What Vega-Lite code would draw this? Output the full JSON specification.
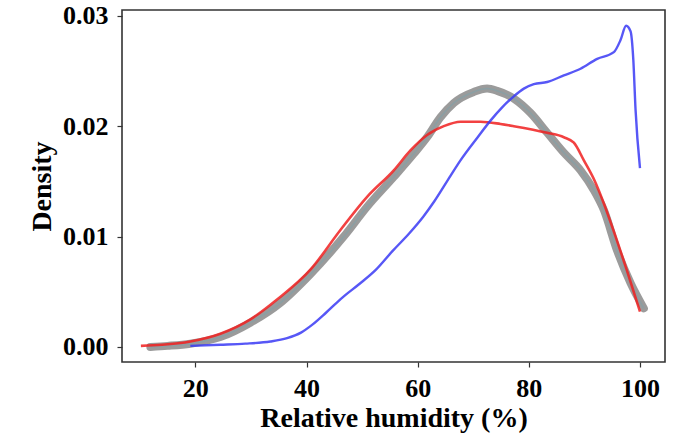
{
  "$schema": "https://vega.github.io/schema/vega-lite/v6.json",
  "width": 543,
  "height": 352,
  "autosize": {"type": "none"},
  "padding": {"left": 122, "top": 10, "right": 21, "bottom": 78},
  "background": "white",
  "config": {
    "view": {"stroke": "#333333", "strokeWidth": 1.6},
    "axis": {
      "labelFont": "Liberation Serif",
      "labelFontWeight": "bold",
      "labelFontSize": 26,
      "labelColor": "#000000",
      "titleFont": "Liberation Serif",
      "titleFontWeight": "bold",
      "titleFontSize": 28,
      "titleColor": "#000000",
      "grid": false,
      "domain": false,
      "tickColor": "#333333",
      "tickSize": 5,
      "tickWidth": 1.2
    }
  },
  "datasets": {
    "density": [
      {"series": "ensemble", "rh": 11.9, "d": 0.0000},
      {"series": "ensemble", "rh": 15.0, "d": 0.0001},
      {"series": "ensemble", "rh": 19.1, "d": 0.0003},
      {"series": "ensemble", "rh": 24.5, "d": 0.0009},
      {"series": "ensemble", "rh": 29.9, "d": 0.0022},
      {"series": "ensemble", "rh": 35.3, "d": 0.0040},
      {"series": "ensemble", "rh": 40.7, "d": 0.0066},
      {"series": "ensemble", "rh": 46.7, "d": 0.0100},
      {"series": "ensemble", "rh": 50.9, "d": 0.0127},
      {"series": "ensemble", "rh": 55.7, "d": 0.0154},
      {"series": "ensemble", "rh": 59.3, "d": 0.0175},
      {"series": "ensemble", "rh": 61.7, "d": 0.0190},
      {"series": "ensemble", "rh": 64.1, "d": 0.0208},
      {"series": "ensemble", "rh": 66.5, "d": 0.0221},
      {"series": "ensemble", "rh": 70.1, "d": 0.0231},
      {"series": "ensemble", "rh": 72.5, "d": 0.0234},
      {"series": "ensemble", "rh": 74.3, "d": 0.0232},
      {"series": "ensemble", "rh": 77.3, "d": 0.0225},
      {"series": "ensemble", "rh": 80.3, "d": 0.0212},
      {"series": "ensemble", "rh": 83.3, "d": 0.0194},
      {"series": "ensemble", "rh": 86.3, "d": 0.0176},
      {"series": "ensemble", "rh": 89.3, "d": 0.0160},
      {"series": "ensemble", "rh": 91.7, "d": 0.0142},
      {"series": "ensemble", "rh": 93.5, "d": 0.0124},
      {"series": "ensemble", "rh": 95.9, "d": 0.0087},
      {"series": "ensemble", "rh": 98.3, "d": 0.0058},
      {"series": "ensemble", "rh": 100.7, "d": 0.0035},

      {"series": "run_a", "rh": 10.2, "d": 0.0001},
      {"series": "run_a", "rh": 14.0, "d": 0.0002},
      {"series": "run_a", "rh": 19.1, "d": 0.0005},
      {"series": "run_a", "rh": 24.5, "d": 0.0012},
      {"series": "run_a", "rh": 29.9, "d": 0.0025},
      {"series": "run_a", "rh": 34.7, "d": 0.0043},
      {"series": "run_a", "rh": 40.7, "d": 0.0070},
      {"series": "run_a", "rh": 46.1, "d": 0.0106},
      {"series": "run_a", "rh": 50.9, "d": 0.0136},
      {"series": "run_a", "rh": 55.7, "d": 0.0160},
      {"series": "run_a", "rh": 58.7, "d": 0.0178},
      {"series": "run_a", "rh": 61.7, "d": 0.0192},
      {"series": "run_a", "rh": 64.7, "d": 0.0200},
      {"series": "run_a", "rh": 67.7, "d": 0.0204},
      {"series": "run_a", "rh": 71.3, "d": 0.0204},
      {"series": "run_a", "rh": 74.9, "d": 0.0202},
      {"series": "run_a", "rh": 77.3, "d": 0.0200},
      {"series": "run_a", "rh": 83.3, "d": 0.0194},
      {"series": "run_a", "rh": 86.3, "d": 0.0190},
      {"series": "run_a", "rh": 88.1, "d": 0.0185},
      {"series": "run_a", "rh": 89.9, "d": 0.0169},
      {"series": "run_a", "rh": 91.8, "d": 0.0151},
      {"series": "run_a", "rh": 93.5, "d": 0.0130},
      {"series": "run_a", "rh": 95.2, "d": 0.0106},
      {"series": "run_a", "rh": 97.6, "d": 0.0070},
      {"series": "run_a", "rh": 100.0, "d": 0.0032},

      {"series": "run_b", "rh": 19.1, "d": 0.0001},
      {"series": "run_b", "rh": 24.5, "d": 0.0002},
      {"series": "run_b", "rh": 29.0, "d": 0.0003},
      {"series": "run_b", "rh": 33.5, "d": 0.0005},
      {"series": "run_b", "rh": 36.5, "d": 0.0008},
      {"series": "run_b", "rh": 39.0, "d": 0.0013},
      {"series": "run_b", "rh": 41.0, "d": 0.0020},
      {"series": "run_b", "rh": 43.5, "d": 0.0031},
      {"series": "run_b", "rh": 46.5, "d": 0.0045},
      {"series": "run_b", "rh": 49.5, "d": 0.0057},
      {"series": "run_b", "rh": 52.5, "d": 0.0070},
      {"series": "run_b", "rh": 55.5, "d": 0.0087},
      {"series": "run_b", "rh": 58.5, "d": 0.0103},
      {"series": "run_b", "rh": 61.0, "d": 0.0118},
      {"series": "run_b", "rh": 63.0, "d": 0.0132},
      {"series": "run_b", "rh": 65.9, "d": 0.0155},
      {"series": "run_b", "rh": 67.7, "d": 0.0169},
      {"series": "run_b", "rh": 70.8, "d": 0.0190},
      {"series": "run_b", "rh": 73.1, "d": 0.0205},
      {"series": "run_b", "rh": 75.2, "d": 0.0217},
      {"series": "run_b", "rh": 77.3, "d": 0.0227},
      {"series": "run_b", "rh": 79.1, "d": 0.0234},
      {"series": "run_b", "rh": 80.9, "d": 0.0238},
      {"series": "run_b", "rh": 83.3, "d": 0.0240},
      {"series": "run_b", "rh": 86.3, "d": 0.0246},
      {"series": "run_b", "rh": 89.3, "d": 0.0252},
      {"series": "run_b", "rh": 92.3, "d": 0.0261},
      {"series": "run_b", "rh": 95.3, "d": 0.0267},
      {"series": "run_b", "rh": 96.5, "d": 0.0278},
      {"series": "run_b", "rh": 97.5, "d": 0.0291},
      {"series": "run_b", "rh": 98.3, "d": 0.0286},
      {"series": "run_b", "rh": 98.8, "d": 0.0260},
      {"series": "run_b", "rh": 99.2, "d": 0.0215},
      {"series": "run_b", "rh": 100.0, "d": 0.0162}
    ]
  },
  "data": {"name": "density"},
  "encoding": {
    "x": {
      "field": "rh",
      "type": "quantitative",
      "title": "Relative humidity (%)",
      "scale": {"domain": [6.8, 104.5], "nice": false, "zero": false},
      "axis": {"values": [20, 40, 60, 80, 100], "labelPadding": 8, "titlePadding": 3}
    },
    "y": {
      "field": "d",
      "type": "quantitative",
      "title": "Density",
      "scale": {"domain": [-0.00136, 0.03052], "nice": false, "zero": false},
      "axis": {"values": [0, 0.01, 0.02, 0.03], "format": ".2f", "labelPadding": 9, "titlePadding": 6}
    }
  },
  "layer": [
    {
      "transform": [{"filter": "datum.series === 'ensemble'"}],
      "mark": {"type": "line", "color": "#969696", "strokeWidth": 8, "interpolate": "monotone", "strokeCap": "round", "opacity": 0.95}
    },
    {
      "transform": [{"filter": "datum.series === 'ensemble'"}],
      "mark": {"type": "line", "color": "#7aa3ad", "strokeWidth": 1.5, "interpolate": "monotone", "opacity": 0.5}
    },
    {
      "transform": [{"filter": "datum.series === 'run_a'"}],
      "mark": {"type": "line", "color": "#f02020", "strokeWidth": 2.6, "interpolate": "monotone", "opacity": 0.85}
    },
    {
      "transform": [{"filter": "datum.series === 'run_b'"}],
      "mark": {"type": "line", "color": "#3a3af5", "strokeWidth": 2.4, "interpolate": "monotone", "opacity": 0.85}
    }
  ]
}
